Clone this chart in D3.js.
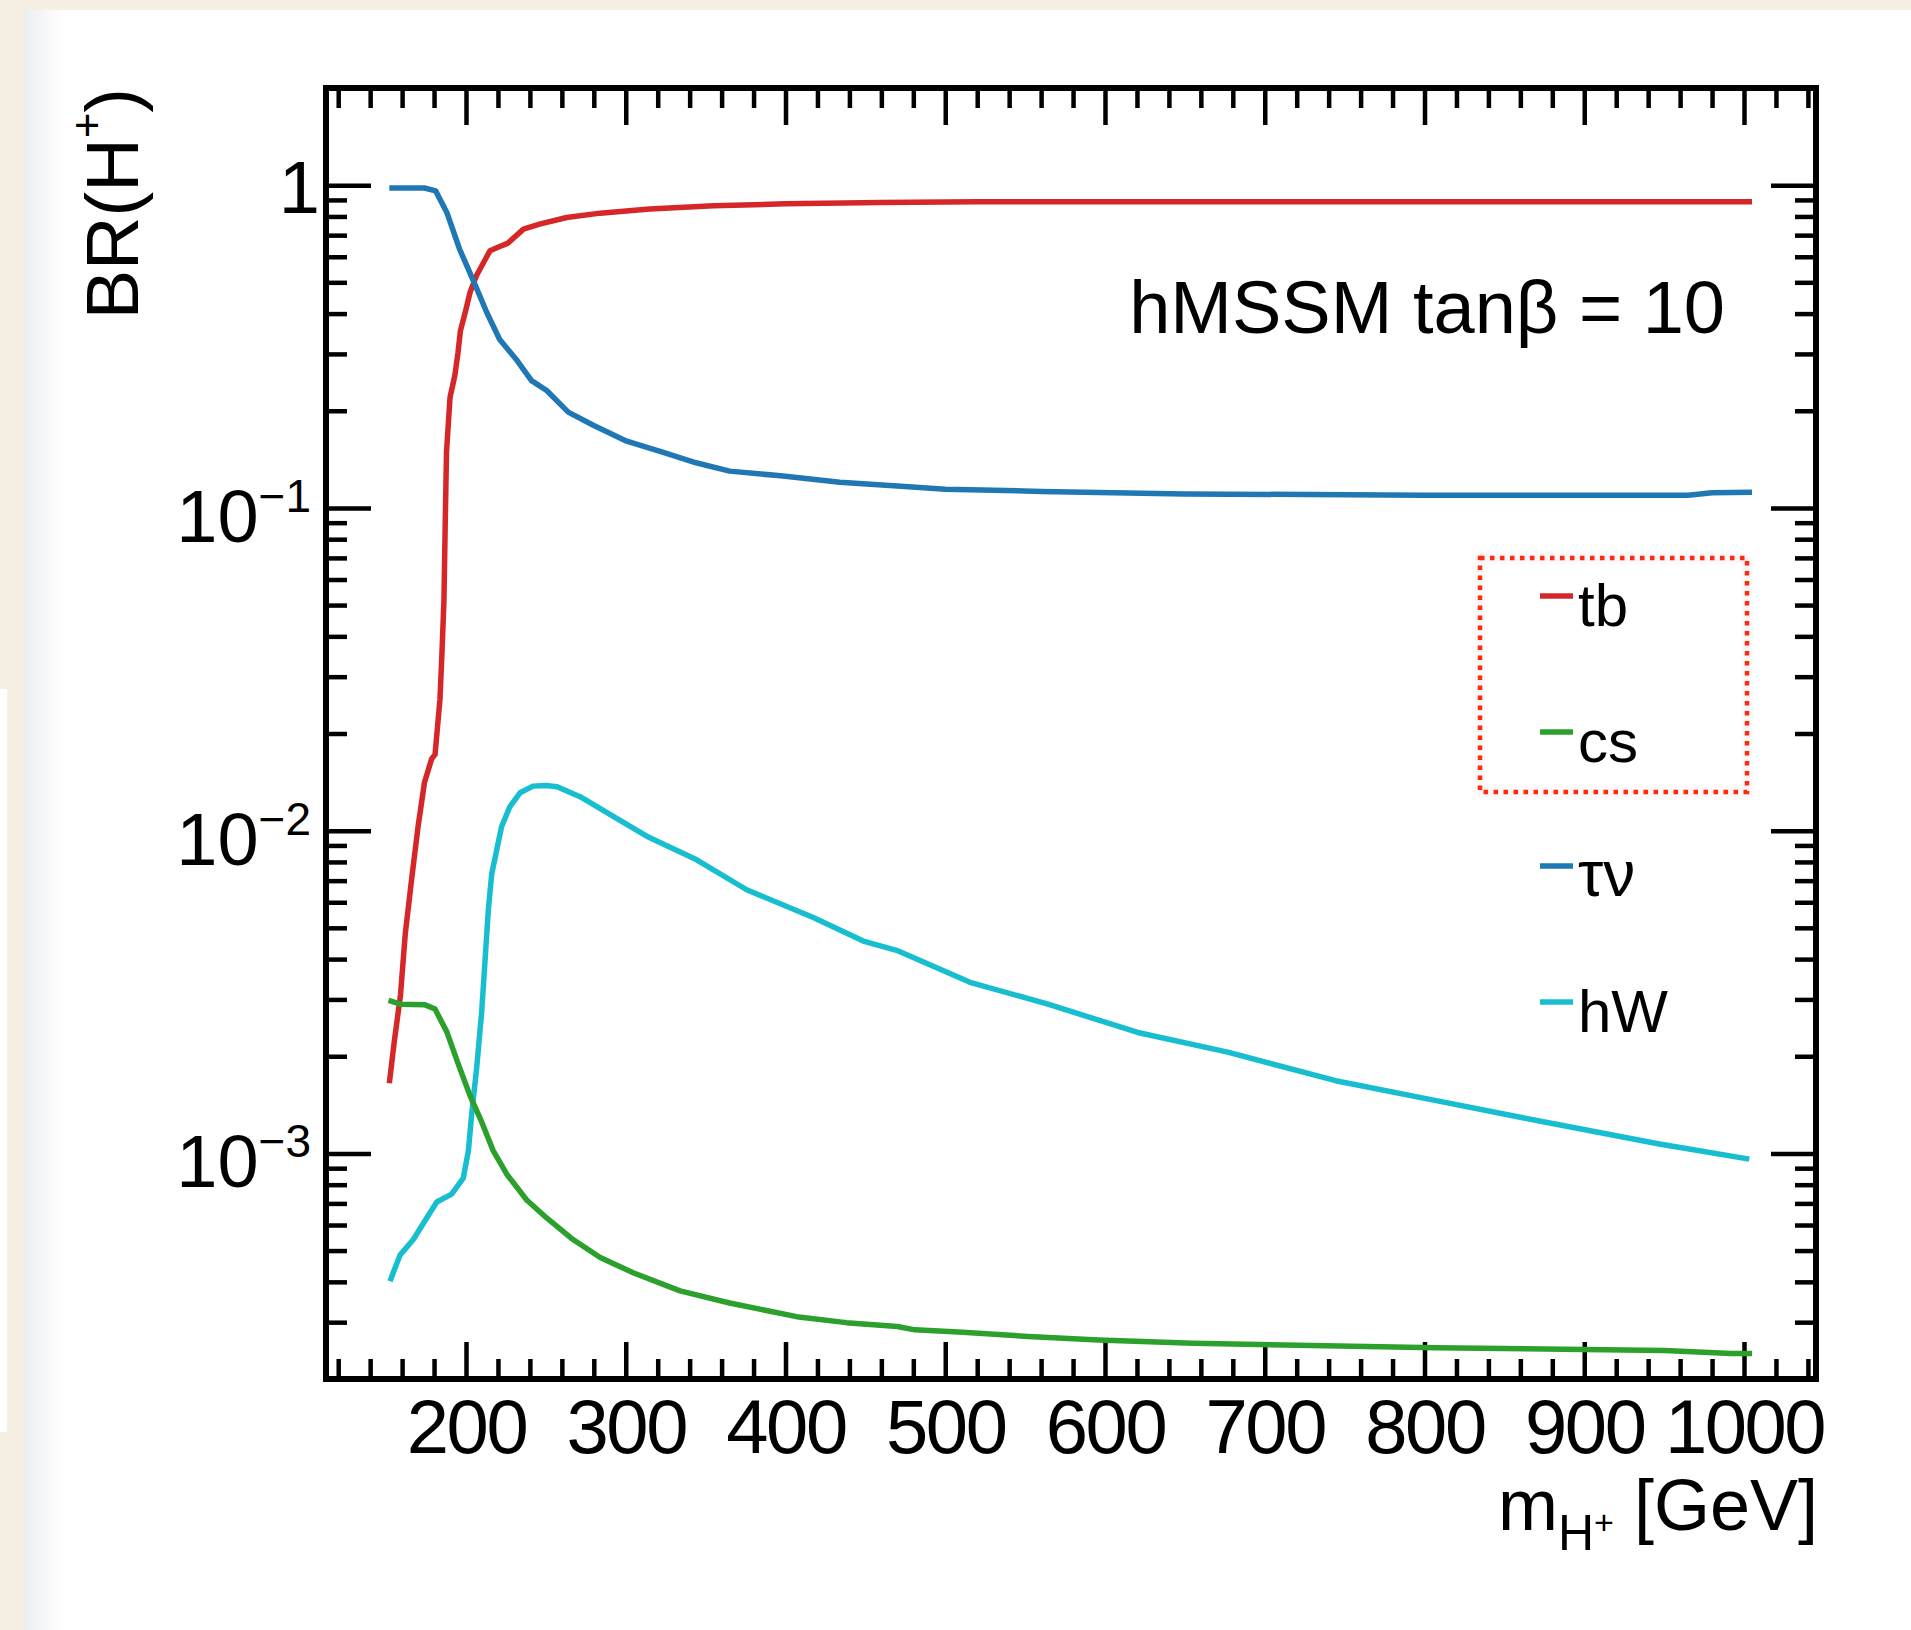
<!DOCTYPE html>
<html><head><meta charset="utf-8">
<script src="https://cdn.jsdelivr.net/npm/d3@7"></script>
<style>
html,body{margin:0;padding:0;background:#fff;}
svg{display:block;}
text{font-family:"Liberation Sans", Arial, Helvetica, sans-serif;}
</style></head><body>
<svg id="chart" width="1911" height="1630"></svg>
<script>
// ---------------- data ----------------
const tbMass = [152, 155, 159, 162, 166, 170, 174, 178.5, 180.6, 183.7, 185, 186.2, 187, 187.8, 190, 193, 195, 196.5, 199.5, 202.5, 206.5, 211, 215, 220, 226, 236, 246, 263, 284, 315, 355, 400, 460, 520, 600, 700, 800, 900, 1005];
const tbBR   = [0.00165, 0.0022, 0.0031, 0.0048, 0.0071, 0.0103, 0.0141, 0.0167, 0.0172, 0.0255, 0.036, 0.052, 0.09, 0.149, 0.22, 0.257, 0.303, 0.354, 0.403, 0.465, 0.524, 0.576, 0.626, 0.642, 0.66, 0.731, 0.757, 0.794, 0.819, 0.843, 0.863, 0.875, 0.884, 0.888, 0.889, 0.889, 0.889, 0.889, 0.889];

const csMass = [151.5, 159, 174, 180.6, 188, 195, 202.5, 209, 217, 225.5, 238, 250.5, 267, 284, 305, 334, 365, 407, 438, 470, 481, 511, 552, 596, 655, 807, 950, 992, 1005];
const csBR   = [0.00298, 0.0029, 0.00289, 0.0028, 0.00238, 0.0019, 0.00151, 0.00128, 0.00102, 0.000862, 0.000717, 0.000631, 0.000541, 0.000476, 0.000426, 0.000375, 0.000344, 0.000312, 0.000299, 0.000291, 0.000284, 0.000279, 0.000271, 0.000264, 0.000258, 0.000250, 0.000245, 0.000240, 0.000240];

const tauMass = [152, 174, 181, 188, 196, 205.6, 213, 221, 232, 241, 250.5, 264, 280, 300.6, 323.5, 344, 365, 397, 434, 470, 500, 560, 650, 800, 965, 980, 1005];
const tauBR   = [0.98, 0.98, 0.96, 0.823, 0.633, 0.493, 0.403, 0.333, 0.286, 0.248, 0.231, 0.198, 0.180, 0.161, 0.1485, 0.138, 0.130, 0.1257, 0.120, 0.117, 0.1143, 0.1125, 0.1105, 0.1095, 0.1095, 0.1115, 0.1118];

const hwMass = [152.4, 158.7, 167, 175.4, 181.7, 191, 198.3, 201.5, 203.5, 206.7, 209.8, 211.9, 214, 216.1, 219.2, 222.3, 227.5, 233.8, 242, 250, 257, 271.4, 292.2, 313.1, 344.4, 375.7, 417.4, 448.7, 470.6, 515.5, 564.3, 620.5, 676.8, 744.4, 808.1, 871.9, 947, 1003.3];
const hwBR   = [0.000402, 0.000484, 0.000541, 0.000631, 0.000707, 0.000748, 0.000838, 0.00102, 0.001315, 0.001845, 0.00274, 0.00395, 0.0057, 0.00735, 0.0087, 0.0103, 0.01188, 0.0131, 0.01374, 0.0138, 0.01367, 0.01274, 0.01107, 0.00961, 0.00812, 0.00656, 0.00538, 0.00455, 0.00424, 0.00339, 0.0029, 0.00237, 0.00206, 0.00168, 0.001455, 0.00126, 0.00107, 0.00096];

const seriesNames = ["tb", "cs", "τν", "hW"];
const xTickValues = [200, 300, 400, 500, 600, 700, 800, 900, 1000];
const xTickLabels = ["200", "300", "400", "500", "600", "700", "800", "900", "1000"];
const yTickValues = [1e-3, 1e-2, 1e-1, 1];
const yTickBases  = ["10", "10", "10", "1"];
const yTickExps   = ["−3", "−2", "−1", ""];
const annotationText = "hMSSM tanβ = 10";
const xTitleParts = ["m", "H", "+", " [GeV]"];
const yTitleParts = ["BR(H", "+", ")"];

// ---------------- layout ----------------
const colors = ["#d62728", "#2ca02c", "#1f77b4", "#17becf"];
const P = {left: 326, right: 1816, top: 88, bottom: 1379};
const svg = d3.select("#chart");

// background
svg.append("rect").attr("x",0).attr("y",0).attr("width",1911).attr("height",1630).attr("fill","#ffffff");
const defs = svg.append("defs");
const lg = defs.append("linearGradient").attr("id","edge").attr("x1",0).attr("x2",1).attr("y1",0).attr("y2",0);
lg.append("stop").attr("offset",0).attr("stop-color","#eceff2");
lg.append("stop").attr("offset",1).attr("stop-color","#ffffff");
svg.append("rect").attr("x",24).attr("y",10).attr("width",40).attr("height",1620).attr("fill","url(#edge)");
svg.append("rect").attr("x",0).attr("y",0).attr("width",1911).attr("height",10).attr("fill","#f6efe4");
svg.append("rect").attr("x",0).attr("y",0).attr("width",24).attr("height",1630).attr("fill","#f6efe4");
svg.append("rect").attr("x",0).attr("y",689).attr("width",7).attr("height",743).attr("fill","#ffffff");

const x = d3.scaleLinear().domain([112.36, 1045.07]).range([P.left, P.right]);
const y = d3.scaleLog().domain([2e-4, 2]).range([P.bottom, P.top]);

// minor tick values
const xMinor = d3.range(120, 1041, 20).filter(v => v % 100 !== 0);
const yMinor = [];
for (let k = -4; k <= 0; k++) for (let m = 2; m <= 9; m++) {
  const v = m * Math.pow(10, k);
  if (v > 2e-4 * 1.01 && v < 2 * 0.99) yMinor.push(v);
}

function styleAxis(g) {
  g.select(".domain").remove();
  g.selectAll(".tick line").attr("stroke", "#000").attr("stroke-width", 4.5);
}

// bottom
svg.append("g").attr("transform", `translate(0,${P.bottom})`)
  .call(d3.axisBottom(x).tickValues(xMinor).tickSize(-20).tickFormat("")).call(styleAxis);
const xAx = svg.append("g").attr("transform", `translate(0,${P.bottom})`)
  .call(d3.axisBottom(x).tickValues(xTickValues).tickSize(-37).tickPadding(20)
    .tickFormat(d => xTickLabels[xTickValues.indexOf(d)]))
  .call(styleAxis);
xAx.attr("font-size", 76).attr("font-family", '"Liberation Sans", Arial, sans-serif');
xAx.selectAll(".tick text").attr("fill", "#000").attr("letter-spacing", "-2.5px");
// top
svg.append("g").attr("transform", `translate(0,${P.top})`)
  .call(d3.axisTop(x).tickValues(xMinor).tickSize(-20).tickFormat("")).call(styleAxis);
svg.append("g").attr("transform", `translate(0,${P.top})`)
  .call(d3.axisTop(x).tickValues(xTickValues).tickSize(-37).tickFormat("")).call(styleAxis);
// left
svg.append("g").attr("transform", `translate(${P.left},0)`)
  .call(d3.axisLeft(y).tickValues(yMinor).tickSize(-21).tickFormat("")).call(styleAxis);
svg.append("g").attr("transform", `translate(${P.left},0)`)
  .call(d3.axisLeft(y).tickValues(yTickValues).tickSize(-45).tickFormat("")).call(styleAxis);
// right
svg.append("g").attr("transform", `translate(${P.right},0)`)
  .call(d3.axisRight(y).tickValues(yMinor).tickSize(-21).tickFormat("")).call(styleAxis);
svg.append("g").attr("transform", `translate(${P.right},0)`)
  .call(d3.axisRight(y).tickValues(yTickValues).tickSize(-45).tickFormat("")).call(styleAxis);

// y tick labels (with superscript exponents)
yTickValues.forEach((v, i) => {
  const ty = y(v);
  const t = svg.append("text")
    .attr("x", yTickExps[i] ? 311 : 320)
    .attr("y", ty + (yTickExps[i] ? 34 : 28))
    .attr("text-anchor", "end").attr("font-size", 74).attr("fill", "#000");
  t.append("tspan").text(yTickBases[i]);
  if (yTickExps[i]) t.append("tspan").attr("font-size", 46).attr("dy", -30).text(yTickExps[i]);
});

// curves
const seriesData = [
  d3.zip(tbMass, tbBR), d3.zip(csMass, csBR), d3.zip(tauMass, tauBR), d3.zip(hwMass, hwBR)
];
const line = d3.line().x(d => x(d[0])).y(d => y(d[1]));
defs.append("clipPath").attr("id", "plotclip").append("rect")
  .attr("x", P.left).attr("y", P.top).attr("width", P.right - P.left).attr("height", P.bottom - P.top);
const curves = svg.append("g").attr("clip-path", "url(#plotclip)");
// draw order: tb, tau, hw, cs roughly like reference
[0, 2, 3, 1].forEach(i => {
  curves.append("path").attr("d", line(seriesData[i]))
    .attr("fill", "none").attr("stroke", colors[i]).attr("stroke-width", 5.5)
    .attr("stroke-linejoin", "round");
});

// frame
svg.append("rect").attr("x", P.left).attr("y", P.top)
  .attr("width", P.right - P.left).attr("height", P.bottom - P.top)
  .attr("fill", "none").attr("stroke", "#000").attr("stroke-width", 6);

// annotation
svg.append("text").attr("x", 1725).attr("y", 333).attr("text-anchor", "end")
  .attr("font-size", 74).attr("fill", "#000").text(annotationText);

// legend
const legY = [596, 732, 866, 1002];
seriesNames.forEach((name, i) => {
  svg.append("line").attr("x1", 1540).attr("x2", 1573).attr("y1", legY[i]).attr("y2", legY[i])
    .attr("stroke", colors[i]).attr("stroke-width", 5.5);
  const t = svg.append("text").attr("x", 1578).attr("y", legY[i] + 30)
    .attr("font-size", 60).attr("fill", "#000").text(name);
  if (name === "τν") t.attr("font-family", '"Liberation Serif", "DejaVu Serif", serif').attr("font-size", 64);
});

// red dotted highlight box
const f = defs.append("filter").attr("id", "sh").attr("x", "-10%").attr("y", "-10%").attr("width", "120%").attr("height", "120%");
f.append("feDropShadow").attr("dx", 0).attr("dy", 0).attr("stdDeviation", 3).attr("flood-color", "#000").attr("flood-opacity", 0.18);
svg.append("rect").attr("x", 1480).attr("y", 558).attr("width", 267).attr("height", 234)
  .attr("fill", "none").attr("stroke", "#ff2a10").attr("stroke-width", 4.5)
  .attr("stroke-dasharray", "4.5,5.5").attr("filter", "url(#sh)");

// axis titles
const xt = svg.append("text").attr("x", 1818).attr("y", 1530).attr("text-anchor", "end")
  .attr("font-size", 72).attr("fill", "#000");
xt.append("tspan").text(xTitleParts[0]);
xt.append("tspan").attr("font-size", 50).attr("dy", 20).text(xTitleParts[1]);
xt.append("tspan").attr("font-size", 34).attr("dy", -16).text(xTitleParts[2]);
xt.append("tspan").attr("font-size", 72).attr("dy", -4).text(xTitleParts[3]);

const yt = svg.append("text").attr("transform", "translate(138,88) rotate(-90)")
  .attr("text-anchor", "end").attr("font-size", 74).attr("fill", "#000");
yt.append("tspan").text(yTitleParts[0]);
yt.append("tspan").attr("font-size", 44).attr("dy", -36).text(yTitleParts[1]);
yt.append("tspan").attr("font-size", 74).attr("dy", 36).text(yTitleParts[2]);
</script>
</body></html>
